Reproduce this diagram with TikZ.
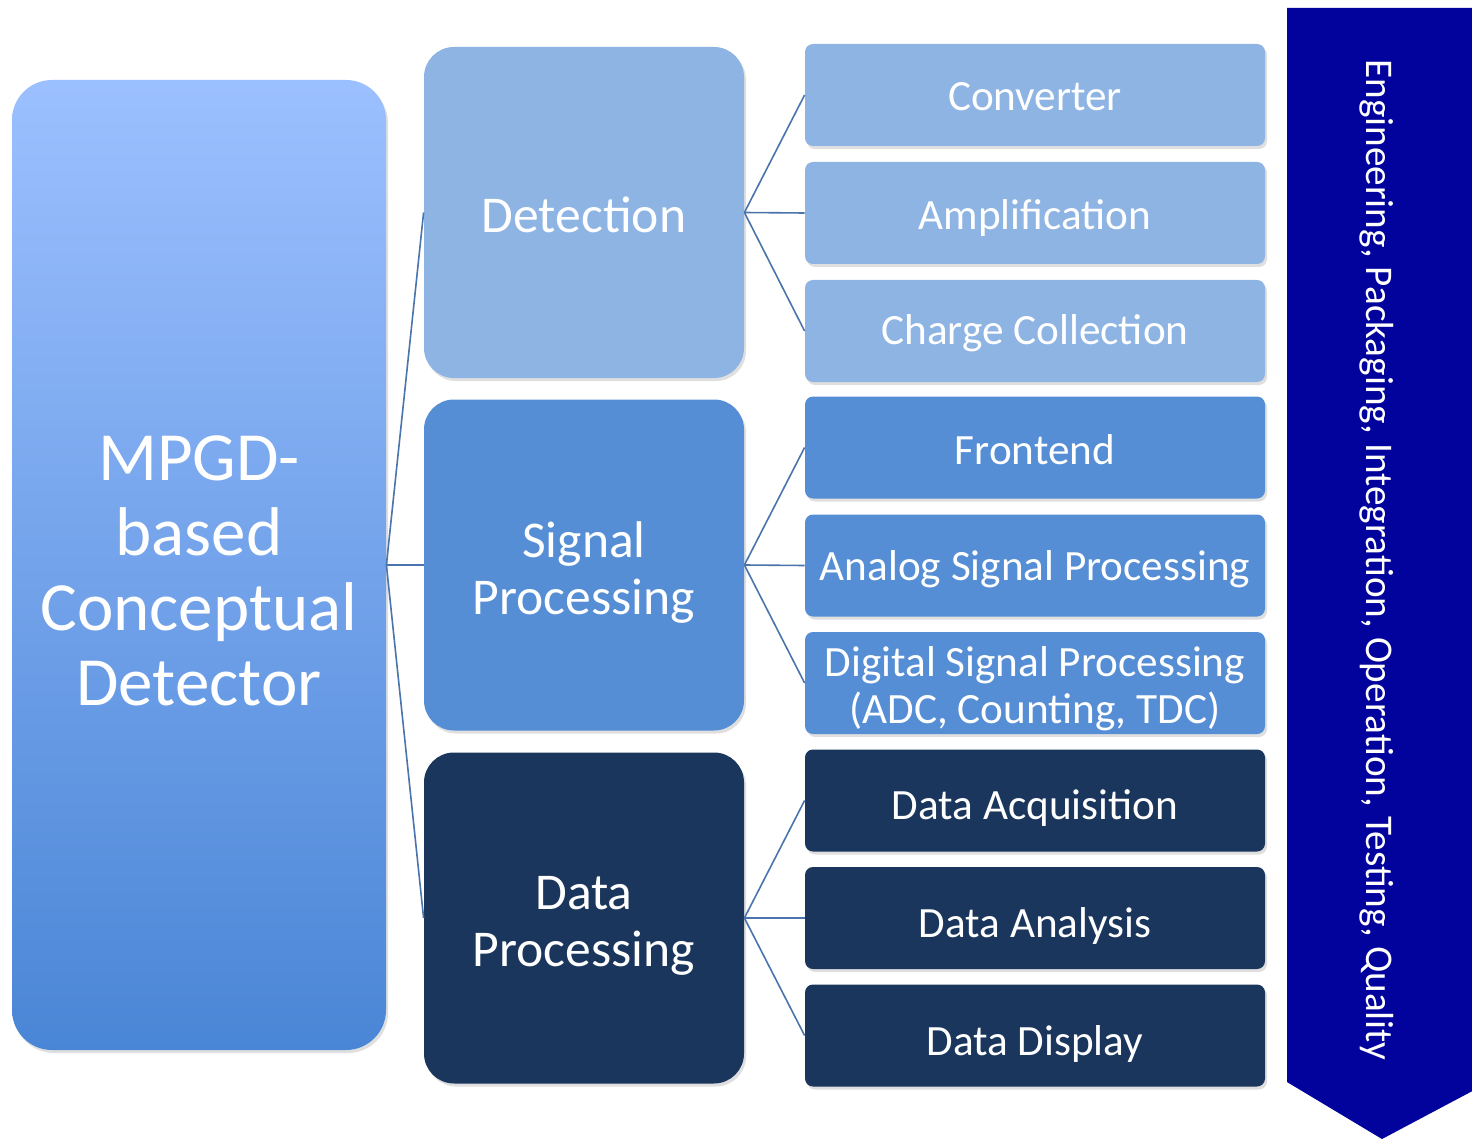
\documentclass[tikz,border=0pt]{standalone}
\usepackage{fontspec}
\setmainfont{Carlito}
\usetikzlibrary{shadows}
\definecolor{detc}{HTML}{8EB4E3}
\definecolor{sigc}{HTML}{558ED5}
\definecolor{datc}{HTML}{1B365D}
\definecolor{arrc}{HTML}{02029C}
\definecolor{linec}{HTML}{4A74AC}
\definecolor{gtop}{HTML}{9CC0FF}
\definecolor{gbot}{HTML}{4A86D6}
\def\dnshift{0pt}
\newcommand\dn[1]{\raisebox{-\dnshift}[\height][\depth]{#1}}
\tikzset{
  tshift/.code={\def\dnshift{#1}},
  rootbox/.style={rounded corners=20pt, top color=gtop, bottom color=gbot, draw=none,
    minimum width=187pt, minimum height=485pt, text=white, align=center,
    font=\fontsize{34.5}{37.5}\selectfont, inner sep=0pt,
    drop shadow={opacity=0.25, shadow xshift=1pt, shadow yshift=-1.5pt}},
  midbox/.style={rounded corners=15pt, draw=none, minimum width=160pt, minimum height=165.5pt,
    text=white, align=center, font=\fontsize{25.8}{28.5}\selectfont, inner sep=0pt,
    drop shadow={opacity=0.25, shadow xshift=1pt, shadow yshift=-1.5pt}},
  leafbox/.style={rounded corners=4pt, draw=none, minimum width=230pt, minimum height=51pt,
    text=white, align=center, font=\fontsize{21.6}{23.5}\selectfont, inner sep=0pt,
    drop shadow={opacity=0.25, shadow xshift=1pt, shadow yshift=-1.5pt}},
  conn/.style={draw=linec, line width=0.8pt},
}
\begin{document}
\begin{tikzpicture}[x=0.5pt, y=-0.5pt]
\useasboundingbox[fill=white] (0,0) rectangle (1472,1139);
% right arrow
\path[fill=arrc] (1287,8) -- (1480,8) -- (1480,1087) -- (1382,1139) -- (1287,1082) -- cycle;
\node[rotate=-90, text=white, font=\fontsize{19.6}{22}\selectfont] (eng) at (1377,560)
  {Engineering, Packaging, Integration, Operation, Testing, Quality};
% root
\node[rootbox, tshift=2.75pt] (root) at (199,565) {\dn{MPGD-}\\\dn{based}\\\dn{Conceptual}\\\dn{Detector}};
% middle
\node[midbox, fill=detc, tshift=1pt] (det) at (584,212.5) {\dn{Detection}};
\node[midbox, fill=sigc, tshift=4pt] (sig) at (584,565) {\dn{Signal}\\\dn{Processing}};
\node[midbox, fill=datc, tshift=4pt] (dat) at (584,918) {\dn{Data}\\\dn{Processing}};
% leaves
\node[leafbox, fill=detc, tshift=0.75pt] (conv) at (1035,95) {\dn{Converter}};
\node[leafbox, fill=detc, tshift=2.25pt] (ampl) at (1035,213) {\dn{Amplification}};
\node[leafbox, fill=detc, tshift=1.25pt] (charge) at (1035,331) {\dn{Charge Collection}};
\node[leafbox, fill=sigc, tshift=1pt] (front) at (1035,447.5) {\dn{Frontend}};
\node[leafbox, fill=sigc, tshift=2pt] (analog) at (1035,565.5) {\dn{Analog Signal Processing}};
\node[leafbox, fill=sigc, tshift=2.75pt] (digital) at (1035,683) {\dn{Digital Signal Processing}\\\dn{(ADC, Counting, TDC)}};
\node[leafbox, fill=datc, tshift=4pt] (acq) at (1035,800.5) {\dn{Data Acquisition}};
\node[leafbox, fill=datc, tshift=4pt] (ana) at (1035,918) {\dn{Data Analysis}};
\node[leafbox, fill=datc, tshift=4pt] (disp) at (1035,1035.5) {\dn{Data Display}};
% connectors
\draw[conn] (root.east) -- (det.west);
\draw[conn] (root.east) -- (sig.west);
\draw[conn] (root.east) -- (dat.west);
\draw[conn] (det.east) -- (conv.west);
\draw[conn] (det.east) -- (ampl.west);
\draw[conn] (det.east) -- (charge.west);
\draw[conn] (sig.east) -- (front.west);
\draw[conn] (sig.east) -- (analog.west);
\draw[conn] (sig.east) -- (digital.west);
\draw[conn] (dat.east) -- (acq.west);
\draw[conn] (dat.east) -- (ana.west);
\draw[conn] (dat.east) -- (disp.west);
\end{tikzpicture}
\end{document}
